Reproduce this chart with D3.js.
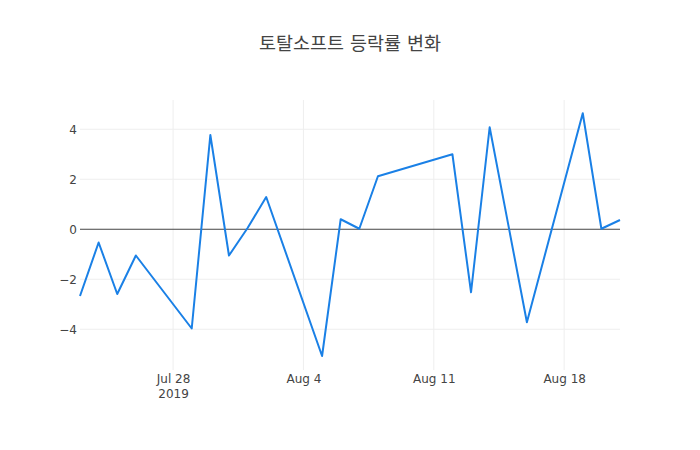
<!doctype html>
<html lang="ko">
<head>
 <meta charset="utf-8">
 <title>토탈소프트 등락률 변화</title>
 <style>
 body{margin:0;background:#fff;}
 svg{font-family:"DejaVu Sans","Noto Sans CJK KR",sans-serif;}
 .grid line{stroke:#eee;stroke-width:1;}
 .tick text{fill:#444;font-size:12px;font-family:"DejaVu Sans",sans-serif;}
 </style>
 <script src="https://cdnjs.cloudflare.com/ajax/libs/d3/7.8.5/d3.min.js"></script>
</head>
<body>
 <svg width="700" height="450"></svg>
 <script>
 const dates=["2019-07-23","2019-07-24","2019-07-25","2019-07-26","2019-07-29","2019-07-30","2019-07-31",
 "2019-08-01","2019-08-02","2019-08-05","2019-08-06","2019-08-07","2019-08-08","2019-08-12","2019-08-13",
 "2019-08-14","2019-08-16","2019-08-19","2019-08-20","2019-08-21"];
 const rates=[-2.67,-0.53,-2.59,-1.05,-3.97,3.77,-1.05,0.05,1.29,-5.07,0.4,0.02,2.12,3.0,-2.52,4.08,-3.72,4.64,0.02,0.37];
 const yTicks=[-4,-2,0,2,4];
 const xTicks=["2019-07-28","2019-08-04","2019-08-11","2019-08-18"];
 const title="토탈소프트 등락률 변화";

 const svgwid=700,svghei=450;
 const margin={top:100,left:80,bottom:80,right:80};
 const width=svgwid-margin.left-margin.right;
 const height=svghei-margin.top-margin.bottom;

 const parse=d3.timeParse("%Y-%m-%d");
 const data=dates.map((d,i)=>({date:parse(d),rate:rates[i]}));

 const xScale=d3.scaleTime().domain(d3.extent(data,d=>d.date)).range([0,width]);
 const yScale=d3.scaleLinear().domain([-5.63,5.17]).range([height,0]);

 const svg=d3.select("svg");
 const g=svg.append("g").attr("transform",`translate(${margin.left},${margin.top})`);

 // grid
 g.append("g").attr("class","grid")
 .selectAll("line.v").data(xTicks.map(parse)).enter().append("line")
 .attr("x1",d=>xScale(d)).attr("x2",d=>xScale(d)).attr("y1",0).attr("y2",height);
 g.append("g").attr("class","grid")
 .selectAll("line.h").data(yTicks.filter(d=>d!==0)).enter().append("line")
 .attr("x1",0).attr("x2",width).attr("y1",d=>yScale(d)).attr("y2",d=>yScale(d));

 // zero line
 g.append("line").attr("x1",0).attr("x2",width)
 .attr("y1",yScale(0)).attr("y2",yScale(0))
 .attr("stroke","#444").attr("stroke-width",1);

 // axes
 const fmt=d3.timeFormat("%b %-d");
 const xAxis=d3.axisBottom(xScale).tickValues(xTicks.map(parse)).tickSize(0).tickPadding(4).tickFormat(fmt);
 const xg=g.append("g").attr("transform",`translate(0,${height})`).call(xAxis);
 xg.select(".domain").remove();
 xg.selectAll(".tick").filter((d,i)=>i===0).select("text")
 .append("tspan").attr("x",0).attr("dy","1.3em").text("2019");

 const yAxis=d3.axisLeft(yScale).tickValues(yTicks).tickSize(0).tickPadding(3)
 .tickFormat(d=>d<0?"\u2212"+Math.abs(d):d);
 const yg=g.append("g").call(yAxis);
 yg.select(".domain").remove();

 // line
 const line=d3.line().x(d=>xScale(d.date)).y(d=>yScale(d.rate));
 g.append("path").datum(data)
 .attr("d",line).attr("fill","none")
 .attr("stroke","#1a80e6").attr("stroke-width",2)
 .attr("stroke-linejoin","round");

 svg.append("text").text(title)
 .attr("x",svgwid/2).attr("y",50)
 .attr("text-anchor","middle")
 .style("font-size","18.5px").style("fill","#444");
 </script>
</body>
</html>
